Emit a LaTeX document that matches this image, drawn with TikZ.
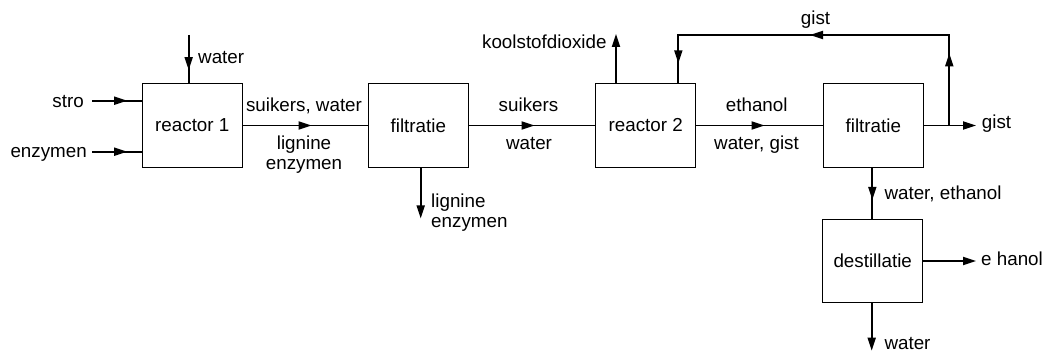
\documentclass[tikz,border=0pt]{standalone}
\usepackage{fontspec}
\setmainfont{Liberation Sans}
\usetikzlibrary{arrows.meta,decorations.markings}
\tikzset{
  tipshape/.tip={Triangle[length=13pt,width=8pt]},
  box/.style={draw, line width=1.4pt, minimum width=100pt, minimum height=83.5pt, inner sep=0pt, font=\lbfont},
  lbl/.style={inner sep=0pt, font=\lbfont},
  flow/.style={line width=1.8pt},
  endarrow/.style={flow, -{tipshape}},
  midarrow/.style={flow, postaction={decorate}, decoration={markings, mark=at position #1 with {\arrow{tipshape}}}},
}
\newcommand{\lbfont}{\fontsize{18.8}{19.5}\selectfont}
\begin{document}
\begin{tikzpicture}[x=1pt,y=-1pt]
\useasboundingbox (0,0) rectangle (1043,352);
% boxes
\node[box] (r1) at (192.3,125.5) {reactor 1};
\node[box] (f1) at (418.3,125.5) {filtratie};
\node[box] (r2) at (645.7,125.5) {reactor 2};
\node[box] (f2) at (873.3,125.5) {filtratie};
\node[box] (d)  at (872.7,261) {destillatie};
% coordinates
\coordinate (stroS) at (92,100.7);
\coordinate (enzS) at (92,151.7);
\coordinate (win) at (188.7,35);
\coordinate (ligE) at (420.7,218.5);
\coordinate (co2E) at (616,34);
\coordinate (br) at (949.3,125.5);
\coordinate (loopR) at (949.3,35);
\coordinate (loopL) at (678.3,35);
\coordinate (gistE) at (976,125.5);
\coordinate (ethE) at (976,261);
\coordinate (watE) at (871.7,350.7);
% labels
\node[lbl, anchor=base east] (lstro) at (84,107.5) {stro};
\node[lbl, anchor=base east] (lenz) at (87,158) {enzymen};
\node[lbl, anchor=base west] (lwin) at (198,64) {water};
\node[lbl, anchor=base] (lsw) at (304,111.5) {suikers, water};
\node[lbl, anchor=north, align=center] (lle1) at (304,135.8) {lignine\\enzymen};
\node[lbl, anchor=north west, align=left] (lle2) at (431,193.8) {lignine\\enzymen};
\node[lbl, anchor=base] (ls) at (528.5,111.7) {suikers};
\node[lbl, anchor=base] (lw) at (529,150) {water};
\node[lbl, anchor=base east] (lco2) at (606.7,48.3) {koolstofdioxide};
\node[lbl, anchor=base] (leth) at (756.7,111.7) {ethanol};
\node[lbl, anchor=base] (lwg) at (756.5,150) {water, gist};
\node[lbl, anchor=base] (lgt) at (815.5,25) {gist};
\node[lbl, anchor=base west] (lgr) at (981.7,128.3) {gist};
\node[lbl, anchor=base west] (lwe) at (884.3,200) {water, ethanol};
\node[lbl, anchor=base west] (leh) at (981,265.5) {e hanol};
\node[lbl, anchor=base west] (lwb) at (884.3,349.3) {water};
% connectors
\draw[midarrow=0.71] (stroS) -- (stroS -| r1.west);
\draw[midarrow=0.71] (enzS) -- (enzS -| r1.west);
\draw[midarrow=0.73] (win) -- (win |- r1.north);
\draw[midarrow=0.55] (r1.east) -- (f1.west);
\draw[midarrow=0.52] (f1.east) -- (r2.west);
\draw[midarrow=0.54] (r2.east) -- (f2.west);
\draw[endarrow] (ligE |- f1.south) -- (ligE);
\draw[endarrow] (co2E |- r2.north) -- (co2E);
\draw[endarrow] (f2.east) -- (gistE);
\draw[flow, postaction={decorate}, decoration={markings,
   mark=at position 72.2pt with {\arrow{tipshape}},
   mark=at position 229.8pt with {\arrow{tipshape}},
   mark=at position 389.8pt with {\arrow{tipshape}}}]
   (br) -- (loopR) -- (loopL) -- (loopL |- r2.north);
\draw[midarrow=0.63] (f2.south -| 872.3,0) -- (d.north -| 872.3,0);
\draw[endarrow] (d.east) -- (ethE);
\draw[endarrow] (watE |- d.south) -- (watE);
\end{tikzpicture}
\end{document}
